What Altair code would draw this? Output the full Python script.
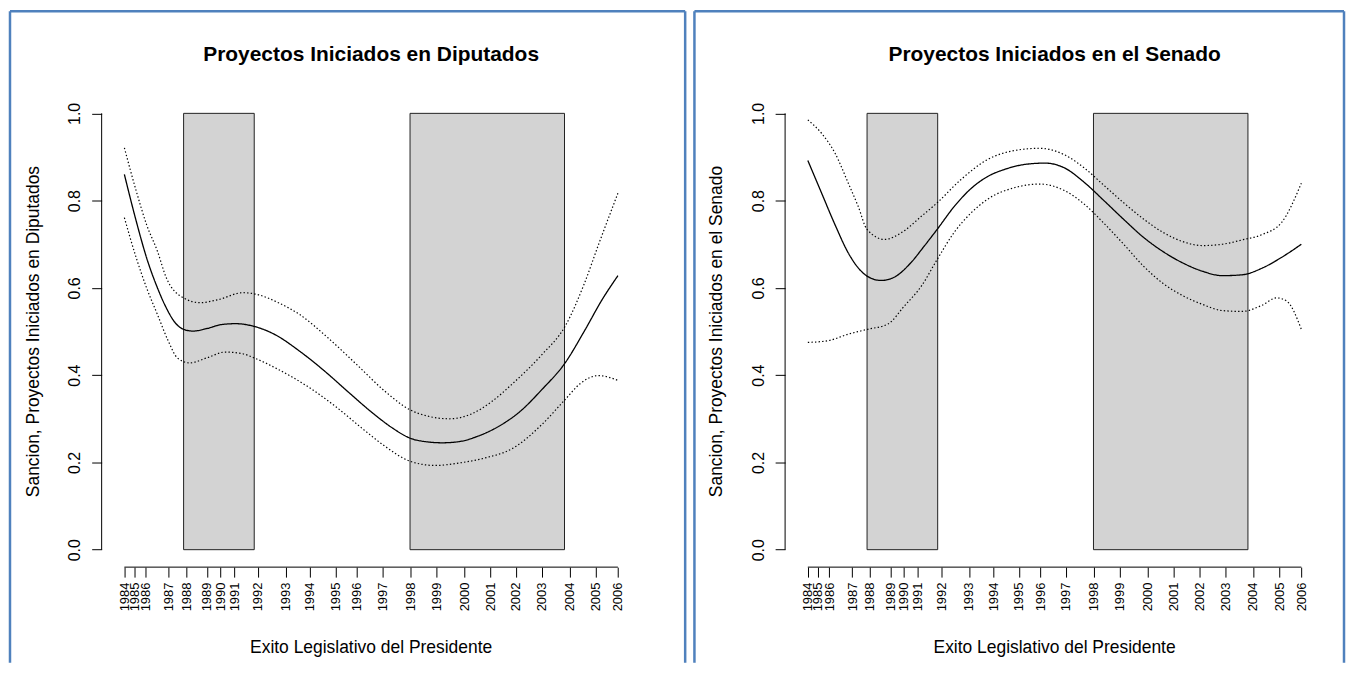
import altair as alt
import pandas as pd

# ---------------- data ----------------
years = ["1984", "1985", "1986", "1987", "1988", "1989", "1990", "1991", "1992",
         "1993", "1994", "1995", "1996", "1997", "1998", "1999", "2000", "2001",
         "2002", "2003", "2004", "2005", "2006"]
# position of each year on the "Exito Legislativo" axis
tick_pos = [0, 2.02, 4.30, 9.02, 12.52, 16.70, 19.44, 22.27, 27.05, 32.65, 37.61,
            42.74, 47.10, 52.23, 57.88, 63.25, 68.85, 74.10, 79.28, 84.60, 90.19,
            95.56, 100]
y_ticks = [0.0, 0.2, 0.4, 0.6, 0.8, 1.0]

shade_start = [12.0, 57.88]
shade_end = [26.31, 89.18]
shade_bottom = [0.0, 0.0]
shade_top = [1.0, 1.0]

# Diputados
dip_fit_x = [0, 2.4, 4.5, 6.7, 8.5, 10.3, 12.0, 13.9, 16.8, 19.7, 22.6, 26.2, 30.5, 35.5,
             40.6, 45.6, 49.9, 54.3, 57.8, 61.5, 64.4, 68.0, 71.6, 75.9, 80.2, 84.6,
             89.3, 93.2, 96.8, 100]
dip_fit_y = [0.860, 0.753, 0.669, 0.600, 0.554, 0.520, 0.505, 0.501, 0.507, 0.516, 0.518,
             0.512, 0.493, 0.455, 0.409, 0.359, 0.317, 0.279, 0.256, 0.247, 0.245, 0.248,
             0.260, 0.283, 0.317, 0.367, 0.428, 0.501, 0.573, 0.628]
dip_up_x = [0, 2.4, 4.5, 6.7, 8.5, 12.0, 15.3, 19.0, 24.0, 26.9, 31.2, 35.5, 41.3, 47.1,
            52.8, 57.8, 61.5, 65.8, 70.1, 74.5, 78.8, 84.6, 89.3, 93.2, 96.1, 100]
dip_up_y = [0.921, 0.822, 0.745, 0.684, 0.623, 0.577, 0.566, 0.573, 0.589, 0.585, 0.566,
            0.539, 0.485, 0.424, 0.363, 0.321, 0.306, 0.300, 0.310, 0.340, 0.382, 0.447,
            0.512, 0.610, 0.700, 0.817]
dip_lo_x = [0, 2.4, 4.5, 6.7, 8.9, 10.7, 13.2, 16.8, 20.4, 24.0, 26.2, 31.2, 37.0, 42.7,
            48.5, 52.8, 57.8, 62.9, 68.0, 73.0, 78.8, 84.6, 89.3, 92.5, 96.1, 100]
dip_lo_y = [0.761, 0.669, 0.600, 0.539, 0.478, 0.440, 0.428, 0.440, 0.453, 0.449, 0.440,
            0.413, 0.375, 0.329, 0.275, 0.237, 0.203, 0.193, 0.199, 0.210, 0.233, 0.287,
            0.344, 0.382, 0.399, 0.388]

# Senado
sen_fit_x = [0, 2.8, 5.5, 8.2, 10.2, 12.0, 14.9, 17.6, 20.9, 23.6, 26.2, 29.7, 33.1, 36.4,
             40, 44, 48, 52, 56, 60, 64, 68, 72, 76, 80, 84, 88, 92, 96, 100]
sen_fit_y = [0.892, 0.817, 0.745, 0.680, 0.646, 0.627, 0.617, 0.625, 0.658, 0.696, 0.734,
             0.787, 0.828, 0.855, 0.872, 0.883, 0.886, 0.875, 0.842, 0.800, 0.757, 0.716,
             0.683, 0.657, 0.638, 0.628, 0.630, 0.645, 0.670, 0.700]
sen_up_x = [0, 2.8, 5.5, 8.2, 10.2, 12.0, 15.6, 18.9, 23.0, 26.2, 31.0, 36.4, 42, 47, 52,
            56, 60, 64, 68, 72, 76, 80, 84, 88, 92, 96, 100]
sen_up_y = [0.985, 0.954, 0.909, 0.840, 0.787, 0.734, 0.711, 0.726, 0.764, 0.795, 0.848,
            0.894, 0.915, 0.920, 0.905, 0.875, 0.835, 0.795, 0.758, 0.727, 0.706, 0.697,
            0.700, 0.710, 0.722, 0.750, 0.840]
sen_lo_x = [0, 4.1, 8.2, 12.05, 16.2, 19.6, 23.0, 26.2, 29.7, 33.1, 36.4, 42, 47, 52, 56,
            60, 64, 68, 72, 76, 80, 84, 88, 92, 95, 97, 100]
sen_lo_y = [0.475, 0.479, 0.494, 0.505, 0.517, 0.559, 0.604, 0.665, 0.728, 0.772, 0.803,
            0.830, 0.838, 0.823, 0.792, 0.748, 0.700, 0.650, 0.610, 0.582, 0.562, 0.548,
            0.546, 0.560, 0.577, 0.570, 0.505]

# ---------------- layout constants ----------------
W, H = 535, 473
X_DOM = [-4, 104]
Y_DOM = [-0.04, 1.04]
FONT = "Liberation Sans"
BLUE = "#4F81BD"
FRAME_TOP = -85
FRAME_BOTTOM = 569

label_expr = ("[" + ",".join("'%s'" % y for y in years) + "][indexof(["
              + ",".join(str(p) for p in tick_pos) + "], datum.value)]")

xs = alt.Scale(domain=X_DOM, nice=False, zero=False)
ys = alt.Scale(domain=Y_DOM, nice=False, zero=False)
one = pd.DataFrame({"k": [0]})

x_axis = alt.Axis(values=tick_pos, labelExpr=label_expr, labelAngle=-90,
                  labelAlign="right", labelBaseline="middle", labelFontSize=13,
                  labelPadding=5, tickSize=10, domain=False, grid=False, title=None,
                  labelOverlap=False, labelFlush=False, labelBound=False,
                  labelSeparation=0)
y_axis = alt.Axis(values=y_ticks, format=".1f", labelAngle=-90, labelAlign="center",
                  labelBaseline="bottom", labelFontSize=16, labelPadding=9, tickSize=10,
                  offset=3, domain=False, grid=False, title=None, labelOverlap=False,
                  labelFlush=False)


def panel(title, ytitle, fx, fy, ux, uy, lx, ly, frame_l, frame_r):
    rects = alt.Chart(pd.DataFrame({"x0": shade_start, "x1": shade_end,
                                    "y0": shade_bottom, "y1": shade_top})).mark_rect(
        fill="#D3D3D3", stroke="#222222", strokeWidth=1
    ).encode(
        x=alt.X("x0:Q", scale=xs, axis=x_axis),
        x2="x1:Q",
        y=alt.Y("y0:Q", scale=ys, axis=y_axis),
        y2="y1:Q",
    )

    def curve(xv, yv, dash, width):
        df = pd.DataFrame({"u": xv, "v": yv})
        m = alt.Chart(df).mark_line(color="black", strokeWidth=width,
                                    interpolate="monotone",
                                    strokeDash=dash)
        return m.encode(x=alt.X("u:Q", scale=xs, axis=x_axis),
                        y=alt.Y("v:Q", scale=ys, axis=y_axis))

    fit = curve(fx, fy, [1, 0], 1.3)
    up = curve(ux, uy, [1.4, 2.2], 1.2)
    lo = curve(lx, ly, [1.4, 2.2], 1.2)

    xl = pd.DataFrame({"a": [tick_pos[0]], "b": [tick_pos[-1]]})
    xline = alt.Chart(xl).mark_rule(color="black", strokeWidth=1).encode(
        x=alt.X("a:Q", scale=xs, axis=x_axis), x2="b:Q", y=alt.value(H))
    yl = pd.DataFrame({"a": [y_ticks[0]], "b": [y_ticks[-1]]})
    yline = alt.Chart(yl).mark_rule(color="black", strokeWidth=1).encode(
        y=alt.Y("a:Q", scale=ys, axis=y_axis), y2="b:Q", x=alt.value(-3))

    ttl = alt.Chart(one).mark_text(fontSize=21, fontWeight="bold", font=FONT,
                                   baseline="alphabetic", align="center",
                                   color="black").encode(
        x=alt.value(W / 2), y=alt.value(-35), text=alt.value(title))
    ylab = alt.Chart(one).mark_text(fontSize=17.5, font=FONT, angle=270,
                                    baseline="middle", align="center",
                                    color="black").encode(
        x=alt.value(-71), y=alt.value(H / 2), text=alt.value(ytitle))
    xlab = alt.Chart(one).mark_text(fontSize=17.5, font=FONT, baseline="middle",
                                    align="center", color="black").encode(
        x=alt.value(W / 2), y=alt.value(554),
        text=alt.value("Exito Legislativo del Presidente"))

    fr = alt.Chart(one).mark_rule(color=BLUE, strokeWidth=2.5)
    ftop = fr.encode(x=alt.value(frame_l), x2=alt.value(frame_r), y=alt.value(FRAME_TOP))
    fl = fr.encode(x=alt.value(frame_l), y=alt.value(FRAME_TOP), y2=alt.value(FRAME_BOTTOM))
    frr = fr.encode(x=alt.value(frame_r), y=alt.value(FRAME_TOP), y2=alt.value(FRAME_BOTTOM))

    return alt.layer(rects, up, lo, fit, xline, yline, ttl, ylab, xlab, ftop, fl, frr
                     ).properties(width=W, height=H)


left = panel("Proyectos Iniciados en Diputados",
             "Sancion, Proyectos Iniciados en Diputados",
             dip_fit_x, dip_fit_y, dip_up_x, dip_up_y, dip_lo_x, dip_lo_y, -95, 582.7)
right = panel("Proyectos Iniciados en el Senado",
              "Sancion, Proyectos Iniciados en el Senado",
              sen_fit_x, sen_fit_y, sen_up_x, sen_up_y, sen_lo_x, sen_lo_y, -94, 558)

chart = alt.hconcat(left, right, spacing=151, bounds="flush").properties(
    padding={"left": 0, "top": 0, "right": 0, "bottom": 0},
    background="white"
).configure_view(stroke="transparent", strokeWidth=0).configure_axis(
    labelFont=FONT, labelColor="black", tickColor="black", tickWidth=1,
    labelOverlap=False
)

chart.save("out.html", embed_options={"renderer": "svg", "actions": False})
